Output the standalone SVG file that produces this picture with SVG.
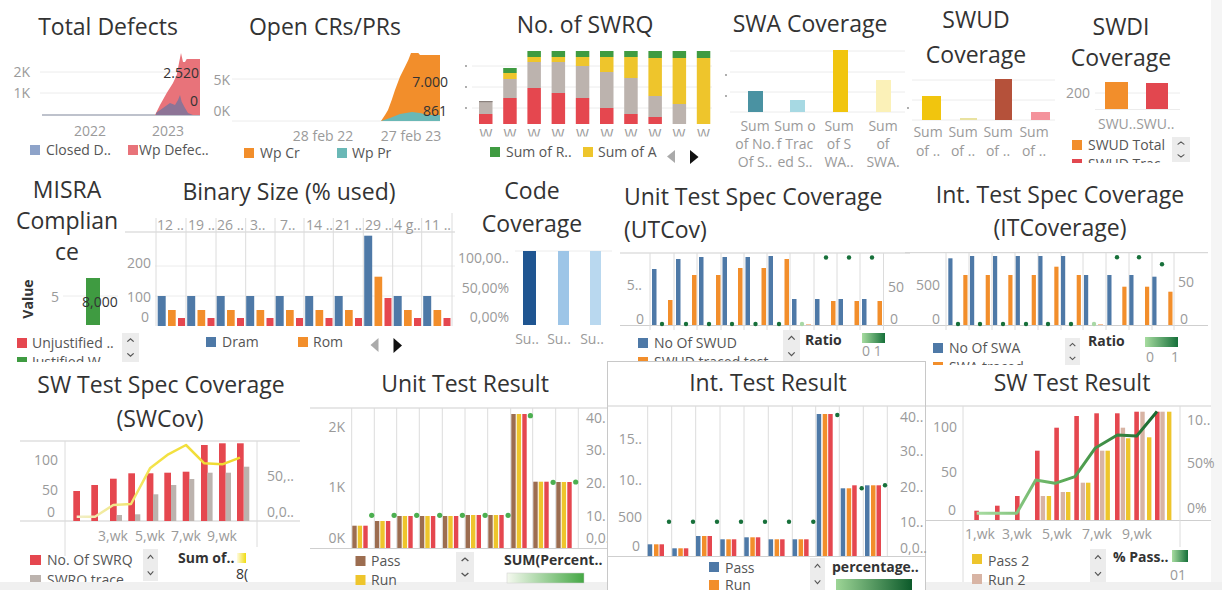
<svg xmlns="http://www.w3.org/2000/svg" xmlns:xlink="http://www.w3.org/1999/xlink" width="1222" height="590" viewBox="0 0 1222 590">
<style>
  text{font-family:"Open Sans","Liberation Sans",sans-serif}
  .ttl{font-size:23px;fill:#333;text-anchor:middle}
  .tls{font-size:23px;fill:#333}
  .ax{font-size:14px;fill:#9a9a9a}
  .e{text-anchor:end}
  .m{text-anchor:middle}
  .lg{font-size:14px;fill:#555}
  .bd{font-size:14px;font-weight:bold;fill:#333}
  .val{font-size:14px;fill:#333}
  .g{stroke:#ececec;stroke-width:1}
  .v{stroke:#dcdcdc;stroke-width:1}
  .bl{stroke:#cfcfcf;stroke-width:1}
  .cb{fill:#4e79a7}
  .co{fill:#f28e2b}
  .cr{fill:#e5474f}
  .cgy{fill:#bcb3ae}
  .cy{fill:#eec52c}
  .cgr{fill:#3f9b41}
  .cbr{fill:#9c6d50}
  .ctn{fill:#d8b4a4}
  .dot{fill:#17703a}
  .dl{fill:#4caf50}
</style>
<defs>
  <linearGradient id="gRatio" x1="0" x2="1" y1="0" y2="0"><stop offset="0" stop-color="#a7dca0"/><stop offset="1" stop-color="#16703a"/></linearGradient>
  <linearGradient id="gSum" x1="0" x2="1" y1="0" y2="0"><stop offset="0" stop-color="#f5f9ef"/><stop offset="1" stop-color="#45a845"/></linearGradient>
  <linearGradient id="gPct" x1="0" x2="1" y1="0" y2="0"><stop offset="0" stop-color="#9dd596"/><stop offset="1" stop-color="#0c5a2a"/></linearGradient>
  <linearGradient id="gYsq" x1="0" x2="1" y1="0" y2="0"><stop offset="0" stop-color="#fffbe0"/><stop offset="1" stop-color="#f0dc10"/></linearGradient>
  <linearGradient id="gYline" gradientUnits="userSpaceOnUse" x1="76" y1="0" x2="240" y2="0"><stop offset="0" stop-color="#f1efcc"/><stop offset="0.5" stop-color="#f3e245"/><stop offset="1" stop-color="#efd82a"/></linearGradient>
  <linearGradient id="gGline" gradientUnits="userSpaceOnUse" x1="976" y1="0" x2="1157" y2="0"><stop offset="0" stop-color="#a9dca2"/><stop offset="0.5" stop-color="#5aa956"/><stop offset="1" stop-color="#1b6a31"/></linearGradient>
  <symbol id="scroll" viewBox="0 0 16 30" preserveAspectRatio="none">
    <rect width="16" height="30" fill="#ececec"/>
    <polyline points="5,9 8,6 11,9" fill="none" stroke="#555" stroke-width="1.2"/>
    <polyline points="5,21 8,24 11,21" fill="none" stroke="#555" stroke-width="1.2"/>
  </symbol>
  <g id="bincol">
    <rect x="0" y="296" width="8" height="30" class="cb"/>
    <rect x="10.3" y="310" width="7.7" height="16" class="co"/>
    <rect x="20.3" y="318" width="7" height="8" class="cr"/>
  </g>
  <clipPath id="cW"><rect x="470" y="126" width="250" height="10.5"/></clipPath>
  <clipPath id="cSwdi"><rect x="1060" y="130" width="150" height="33"/></clipPath>
  <clipPath id="cMisra"><rect x="0" y="330" width="150" height="32"/></clipPath>
  <clipPath id="cUt"><rect x="620" y="330" width="170" height="32"/></clipPath>
  <clipPath id="cIt"><rect x="920" y="330" width="150" height="35"/></clipPath>
  <clipPath id="cSws"><rect x="0" y="545" width="300" height="37"/></clipPath>
</defs>

<rect width="1222" height="590" fill="#fff"/>
<!-- right edge strip and bottom band -->
<rect x="1211" y="0" width="11" height="590" fill="#f5f5f5"/>
<rect x="0" y="582" width="607" height="8" fill="#f0f0f0"/>
<rect x="926" y="582" width="296" height="8" fill="#f0f0f0"/>

<!-- Total Defects -->
<g id="total-defects">
  <text class="ttl" x="108" y="35">Total Defects</text>
  <line class="g" x1="40" y1="72" x2="200" y2="72"/>
  <line class="g" x1="40" y1="93" x2="200" y2="93"/>
  <text class="ax e" x="30" y="77">2K</text>
  <text class="ax e" x="30" y="98">1K</text>
  <line x1="42" y1="115" x2="200" y2="115" stroke="#a9aebb" stroke-width="1.5"/>
  <path d="M155,115 L160,105 L166.7,93 L173,83 L176.7,75 L179,63 L181,53 L183,62 L185,62 L186.7,59 L200,59 L200,115 Z" fill="#e8737a"/>
  <path d="M156,113 L163,108 L170,103 L175,105 L178,100 L180,95 L181.7,101.7 L185,108 L188,113 L193,115 L156,115 Z" fill="#8d7496"/>
  <text class="val e" x="199" y="78">2.520</text>
  <text class="val e" x="198" y="106">0</text>
  <text class="ax m" x="90" y="136">2022</text>
  <text class="ax m" x="168" y="136">2023</text>
  <rect x="30" y="145" width="10" height="10" fill="#8ea3c9"/>
  <text class="lg" x="46" y="155">Closed D..</text>
  <rect x="128" y="145" width="10" height="10" fill="#e8737a"/>
  <text class="lg" x="139" y="155">Wp Defec..</text>
</g>

<!-- Open CRs/PRs -->
<g id="open-crs-prs">
  <text class="ttl" x="325" y="35">Open CRs/PRs</text>
  <line class="g" x1="232" y1="79" x2="440" y2="79"/>
  <line class="g" x1="232" y1="121" x2="440" y2="121"/>
  <text class="ax e" x="230" y="85">5K</text>
  <text class="ax e" x="230" y="116">0K</text>
  <path d="M381,121 L385,115 L388,110 L391.7,100 L395,90 L400,76.7 L405,66.7 L408.3,60 L411,53 L418.3,53 L420,55 L440,55 L440,121 Z" fill="#f28e2b"/>
  <path d="M381,121 L390,118 L400,114 L412,112 L420,113 L428,115 L440,115 L440,121 Z" fill="#6ab8b6"/>
  <text class="val e" x="448" y="87">7.000</text>
  <text class="val e" x="447" y="116">861</text>
  <text class="ax m" x="323" y="141">28 feb 22</text>
  <text class="ax m" x="411" y="141">27 feb 23</text>
  <rect x="244" y="148" width="10" height="10" class="co"/>
  <text class="lg" x="260" y="158">Wp Cr</text>
  <rect x="337" y="148" width="10" height="10" fill="#6ab8b6"/>
  <text class="lg" x="352" y="158">Wp Pr</text>
</g>

<!-- No. of SWRQ -->
<g id="no-of-swrq">
  <text class="ttl" x="585" y="33">No. of SWRQ</text>
  <line class="g" x1="472" y1="66" x2="712" y2="66"/>
  <line class="g" x1="472" y1="87" x2="712" y2="87"/>
  <line class="g" x1="472" y1="108" x2="712" y2="108"/>
  <circle cx="466" cy="66" r="0.9" fill="#888"/>
  <circle cx="466" cy="87" r="0.9" fill="#888"/>
  <circle cx="466" cy="108" r="0.9" fill="#888"/>
  <rect x="479" y="101" width="13.5" height="13" class="cgy"/>
  <rect x="479" y="101" width="13.5" height="1.2" fill="#8a817d"/>
  <rect x="479" y="114" width="13.5" height="10" class="cr"/>
  <rect x="503.2" y="68" width="13.5" height="5" class="cgr"/>
  <rect x="503.2" y="73" width="13.5" height="6" class="cy"/>
  <rect x="503.2" y="79" width="13.5" height="19" class="cgy"/>
  <rect x="503.2" y="98" width="13.5" height="26" class="cr"/>
  <rect x="527.4" y="51" width="13.5" height="6" class="cgr"/>
  <rect x="527.4" y="57" width="13.5" height="5" class="cy"/>
  <rect x="527.4" y="62" width="13.5" height="26" class="cgy"/>
  <rect x="527.4" y="88" width="13.5" height="36" class="cr"/>
  <rect x="551.6" y="51" width="13.5" height="6" class="cgr"/>
  <rect x="551.6" y="57" width="13.5" height="5" class="cy"/>
  <rect x="551.6" y="62" width="13.5" height="31" class="cgy"/>
  <rect x="551.6" y="93" width="13.5" height="31" class="cr"/>
  <rect x="575.8" y="51" width="13.5" height="6" class="cgr"/>
  <rect x="575.8" y="57" width="13.5" height="9" class="cy"/>
  <rect x="575.8" y="66" width="13.5" height="32" class="cgy"/>
  <rect x="575.8" y="98" width="13.5" height="26" class="cr"/>
  <rect x="600" y="51" width="13.5" height="6" class="cgr"/>
  <rect x="600" y="57" width="13.5" height="15" class="cy"/>
  <rect x="600" y="72" width="13.5" height="36" class="cgy"/>
  <rect x="600" y="108" width="13.5" height="16" class="cr"/>
  <rect x="624.2" y="51" width="13.5" height="6" class="cgr"/>
  <rect x="624.2" y="57" width="13.5" height="21" class="cy"/>
  <rect x="624.2" y="78" width="13.5" height="36" class="cgy"/>
  <rect x="624.2" y="114" width="13.5" height="10" class="cr"/>
  <rect x="648.4" y="51" width="13.5" height="7" class="cgr"/>
  <rect x="648.4" y="58" width="13.5" height="38" class="cy"/>
  <rect x="648.4" y="96" width="13.5" height="21" class="cgy"/>
  <rect x="648.4" y="117" width="13.5" height="7" class="cr"/>
  <rect x="672.6" y="51" width="13.5" height="7" class="cgr"/>
  <rect x="672.6" y="58" width="13.5" height="46" class="cy"/>
  <rect x="672.6" y="104" width="13.5" height="20" class="cgy"/>
  <rect x="696.8" y="51" width="13.5" height="7" class="cgr"/>
  <rect x="696.8" y="58" width="13.5" height="66" class="cy"/>
  <!-- category labels, cut by the axis band -->
  <g clip-path="url(#cW)" font-size="13">
    <text class="ax m" x="486" y="139" font-size="13">W</text>
    <text class="ax m" x="510" y="139" font-size="13">W</text>
    <text class="ax m" x="534" y="139" font-size="13">W</text>
    <text class="ax m" x="558" y="139" font-size="13">W</text>
    <text class="ax m" x="582.5" y="139" font-size="13">W</text>
    <text class="ax m" x="607" y="139" font-size="13">W</text>
    <text class="ax m" x="631" y="139" font-size="13">W</text>
    <text class="ax m" x="655" y="139" font-size="13">W</text>
    <text class="ax m" x="679" y="139" font-size="13">W</text>
    <text class="ax m" x="703.5" y="139" font-size="13">W</text>
  </g>
  <rect x="490" y="147" width="10" height="10" class="cgr"/>
  <text class="lg" x="506" y="157">Sum of R..</text>
  <rect x="583" y="147" width="10" height="10" class="cy"/>
  <text class="lg" x="598" y="157">Sum of A</text>
  <polygon points="675,150 675,163 667,156.5" fill="#aaa"/>
  <polygon points="690,150 690,164 698.5,157" fill="#111"/>
</g>

<!-- SWA Coverage -->
<g id="swa-coverage">
  <text class="ttl" x="810" y="32">SWA Coverage</text>
  <line class="g" x1="730" y1="51" x2="905" y2="51"/>
  <line class="g" x1="730" y1="72" x2="905" y2="72"/>
  <line class="g" x1="730" y1="92" x2="905" y2="92"/>
  <line class="g" x1="730" y1="112" x2="905" y2="112"/>
  <circle cx="726" cy="75" r="0.9" fill="#888"/>
  <circle cx="726" cy="96" r="0.9" fill="#888"/>
  <rect x="748" y="91" width="15" height="21" fill="#4a92a2"/>
  <rect x="790" y="100" width="15" height="12" fill="#a7d9e3"/>
  <rect x="833" y="50" width="15" height="62" fill="#f1c50e"/>
  <rect x="876" y="80" width="15" height="32" fill="#fbf1b8"/>
  <g class="ax m">
    <text x="755" y="131">Sum</text><text x="755" y="149">of No.</text><text x="755" y="167">Of S..</text>
    <text x="795" y="131">Sum o</text><text x="795" y="149">f Trac</text><text x="795" y="167">ed S..</text>
    <text x="839" y="131">Sum</text><text x="839" y="149">of S</text><text x="839" y="167">WA..</text>
    <text x="883" y="131">Sum</text><text x="883" y="149">of</text><text x="883" y="167">SWA.</text>
  </g>
</g>

<!-- SWUD Coverage -->
<g id="swud-coverage">
  <text class="ttl" x="976" y="28">SWUD</text>
  <text class="ttl" x="976" y="63">Coverage</text>
  <line class="g" x1="912" y1="80" x2="1055" y2="80"/>
  <line class="g" x1="912" y1="100" x2="1055" y2="100"/>
  <line class="g" x1="912" y1="120" x2="1055" y2="120"/>
  <circle cx="908" cy="108" r="0.9" fill="#888"/>
  <rect x="922" y="96" width="19" height="24" fill="#f1c50e"/>
  <rect x="960" y="118" width="17" height="2" fill="#e9e2a0"/>
  <rect x="995" y="79" width="17" height="41" fill="#b5513a"/>
  <rect x="1031" y="112" width="19" height="8" fill="#f4939c"/>
  <g class="ax m">
    <text x="928" y="137">Sum</text><text x="928" y="156">of ..</text>
    <text x="963" y="137">Sum</text><text x="963" y="156">of ..</text>
    <text x="998" y="137">Sum</text><text x="998" y="156">of ..</text>
    <text x="1034" y="137">Sum</text><text x="1034" y="156">of ..</text>
  </g>
</g>

<!-- SWDI Coverage -->
<g id="swdi-coverage">
  <text class="ttl" x="1121" y="35">SWDI</text>
  <text class="ttl" x="1121" y="66">Coverage</text>
  <line class="g" x1="1095" y1="93" x2="1180" y2="93"/>
  <line class="g" x1="1095" y1="109.5" x2="1180" y2="109.5"/>
  <text class="ax e" x="1090" y="98">200</text>
  <rect x="1105" y="82" width="23" height="27" class="co"/>
  <rect x="1146" y="83" width="22" height="26" fill="#e2474f"/>
  <text class="ax" x="1098" y="129">SWU..SWU..</text>
  <g clip-path="url(#cSwdi)">
    <rect x="1072" y="140" width="10" height="10" class="co"/>
    <text class="lg" x="1088" y="150">SWUD Total</text>
    <rect x="1072" y="159" width="10" height="10" fill="#e2474f"/>
    <text class="lg" x="1088" y="169">SWUD Trac..</text>
  </g>
  <use xlink:href="#scroll" x="1172" y="137" width="18" height="25"/>
</g>

<!-- MISRA Compliance -->
<g id="misra-compliance">
  <text class="ttl" x="67" y="198">MISRA</text>
  <text class="ttl" x="67" y="229">Complian</text>
  <text class="ttl" x="67" y="260">ce</text>
  <line class="g" x1="63" y1="296" x2="118" y2="296"/>
  <text class="bd" x="33" y="299" text-anchor="middle" transform="rotate(-90 33 299)">Value</text>
  <text class="ax e" x="59" y="302">5</text>
  <rect x="86" y="278" width="14" height="47" class="cgr"/>
  <text class="val" x="82" y="307">8,000</text>
  <g clip-path="url(#cMisra)">
    <rect x="17" y="338" width="10" height="10" class="cr"/>
    <text class="lg" x="32" y="348">Unjustified ..</text>
    <rect x="17" y="357" width="10" height="10" class="cgr"/>
    <text class="lg" x="32" y="367">Justified W..</text>
  </g>
  <use xlink:href="#scroll" x="122" y="333" width="17" height="29"/>
</g>

<!-- Binary Size (% used) -->
<g id="binary-size">
  <text class="ttl" x="289" y="200">Binary Size (% used)</text>
  <line class="bl" x1="125" y1="232" x2="455" y2="232"/>
  <line class="g" x1="155" y1="266" x2="455" y2="266"/>
  <line class="g" x1="155" y1="296" x2="455" y2="296"/>
  <g class="v">
    <line x1="156" y1="218" x2="156" y2="326"/>
    <line x1="186" y1="218" x2="186" y2="326"/>
    <line x1="216" y1="218" x2="216" y2="326"/>
    <line x1="245.7" y1="218" x2="245.7" y2="326"/>
    <line x1="275" y1="218" x2="275" y2="326"/>
    <line x1="304" y1="218" x2="304" y2="326"/>
    <line x1="333.3" y1="218" x2="333.3" y2="326"/>
    <line x1="363.3" y1="218" x2="363.3" y2="326"/>
    <line x1="392.7" y1="218" x2="392.7" y2="326"/>
    <line x1="421.7" y1="218" x2="421.7" y2="326"/>
  </g>
  <g class="ax">
    <text x="157" y="230">12 ..</text>
    <text x="188" y="230">19 ..</text>
    <text x="217" y="230">26 ..</text>
    <text x="250" y="230">3..</text>
    <text x="280" y="230">7..</text>
    <text x="306" y="230">14 ..</text>
    <text x="335" y="230">21 ..</text>
    <text x="365" y="230">29 ..</text>
    <text x="394" y="230">4 g..</text>
    <text x="424" y="230">11 ..</text>
  </g>
  <text class="ax e" x="151" y="268">200</text>
  <text class="ax e" x="151" y="302">100</text>
  <text class="ax e" x="149" y="322">0</text>
  <use xlink:href="#bincol" x="157.7"/>
  <use xlink:href="#bincol" x="187.2"/>
  <use xlink:href="#bincol" x="216.7"/>
  <use xlink:href="#bincol" x="246.2"/>
  <use xlink:href="#bincol" x="275.7"/>
  <use xlink:href="#bincol" x="305.2"/>
  <use xlink:href="#bincol" x="334.7"/>
  <rect x="364.2" y="235.7" width="8" height="90.3" class="cb"/>
  <rect x="374.5" y="276.7" width="7.7" height="49.3" class="co"/>
  <rect x="384.5" y="298" width="7" height="28" class="cr"/>
  <use xlink:href="#bincol" x="393.7"/>
  <use xlink:href="#bincol" x="423.2"/>
  <rect x="206" y="337" width="10" height="10" class="cb"/>
  <text class="lg" x="222" y="347">Dram</text>
  <rect x="298" y="337" width="10" height="10" class="co"/>
  <text class="lg" x="313" y="347">Rom</text>
  <polygon points="378.5,338 378.5,352 370.5,345" fill="#aaa"/>
  <polygon points="393.5,338 393.5,353 402,345.5" fill="#111"/>
</g>

<!-- Code Coverage -->
<g id="code-coverage">
  <text class="ttl" x="532" y="199">Code</text>
  <text class="ttl" x="532" y="232">Coverage</text>
  <line class="v" x1="452" y1="213" x2="452" y2="326"/>
  <line class="g" x1="515" y1="251" x2="612" y2="251"/>
  <text class="ax e" x="509" y="263">100,00..</text>
  <text class="ax e" x="509" y="293">50,00%</text>
  <text class="ax e" x="509" y="322">0,00%</text>
  <rect x="523" y="251" width="13" height="74" fill="#1f5591"/>
  <rect x="558" y="251" width="11" height="74" fill="#9dc5e7"/>
  <rect x="590" y="251" width="11" height="74" fill="#b9d8ef"/>
  <text class="ax m" x="527" y="344">Su..</text>
  <text class="ax m" x="559" y="344">Su..</text>
  <text class="ax m" x="592" y="344">Su..</text>
</g>

<!-- Unit Test Spec Coverage (UTCov) -->
<g id="unit-test-spec-coverage">
  <text class="tls" x="624" y="205">Unit Test Spec Coverage</text>
  <text class="tls" x="624" y="238">(UTCov)</text>
  <line class="bl" x1="620" y1="253" x2="910" y2="253"/>
  <line class="bl" x1="620" y1="325.5" x2="910" y2="325.5"/>
  <g class="v">
    <line x1="650" y1="253" x2="650" y2="330"/>
    <line x1="674" y1="253" x2="674" y2="330"/>
    <line x1="697" y1="253" x2="697" y2="330"/>
    <line x1="721" y1="253" x2="721" y2="330"/>
    <line x1="744" y1="253" x2="744" y2="330"/>
    <line x1="767" y1="253" x2="767" y2="330"/>
    <line x1="790" y1="253" x2="790" y2="330"/>
    <line x1="814" y1="253" x2="814" y2="330"/>
    <line x1="837" y1="253" x2="837" y2="330"/>
    <line x1="860" y1="253" x2="860" y2="330"/>
    <line x1="883.5" y1="253" x2="883.5" y2="330"/>
  </g>
  <text class="ax e" x="642" y="290">5..</text>
  <text class="ax e" x="644" y="324">0</text>
  <text class="ax" x="888" y="292">50</text>
  <text class="ax" x="890" y="324">0</text>
  <g class="cb">
    <rect x="652" y="269" width="4.5" height="56"/>
    <rect x="676" y="259" width="4.5" height="66"/>
    <rect x="699" y="257" width="4.5" height="68"/>
    <rect x="722.5" y="257" width="4.5" height="68"/>
    <rect x="745.5" y="257" width="4.5" height="68"/>
    <rect x="768.5" y="256" width="4.5" height="69"/>
    <rect x="792" y="299" width="4.5" height="26"/>
    <rect x="815" y="299" width="4.5" height="26"/>
    <rect x="838.5" y="299" width="4.5" height="26"/>
    <rect x="862" y="299" width="4.5" height="26"/>
  </g>
  <g class="co">
    <rect x="668" y="300" width="4.5" height="25"/>
    <rect x="692" y="275" width="4.5" height="50"/>
    <rect x="716" y="275" width="4.5" height="50"/>
    <rect x="738" y="268" width="4.5" height="57"/>
    <rect x="761.5" y="268" width="4.5" height="57"/>
    <rect x="784.5" y="259" width="4.5" height="66"/>
    <rect x="806" y="324" width="5" height="1" fill="#f6c29a"/>
    <rect x="831" y="301" width="4.5" height="24"/>
    <rect x="854.5" y="301" width="4.5" height="24"/>
    <rect x="877.5" y="301" width="4.5" height="24"/>
  </g>
  <g class="dot">
    <circle cx="662" cy="324" r="2.2"/>
    <circle cx="686" cy="324" r="2.2"/>
    <circle cx="709" cy="324" r="2.2"/>
    <circle cx="732" cy="324" r="2.2"/>
    <circle cx="755.5" cy="324" r="2.2"/>
    <circle cx="779" cy="324" r="2.2"/>
    <circle cx="802" cy="324" r="2.2" fill="#a8d8a5"/>
    <circle cx="826" cy="257.5" r="2.2"/>
    <circle cx="849" cy="257.5" r="2.2"/>
    <circle cx="872" cy="257.5" r="2.2"/>
  </g>
  <g clip-path="url(#cUt)">
    <rect x="638" y="338" width="10" height="10" class="cb"/>
    <text class="lg" x="654" y="348">No Of SWUD</text>
    <rect x="638" y="357" width="10" height="10" class="co"/>
    <text class="lg" x="654" y="367">SWUD traced test..</text>
  </g>
  <use xlink:href="#scroll" x="783" y="330" width="17" height="32"/>
  <text class="bd" x="805" y="345">Ratio</text>
  <rect x="862" y="333" width="23" height="10" fill="url(#gRatio)"/>
  <text class="ax" x="862" y="356">0 1</text>
</g>

<!-- Int. Test Spec Coverage (ITCoverage) -->
<g id="int-test-spec-coverage">
  <text class="ttl" x="1060" y="203">Int. Test Spec Coverage</text>
  <text class="ttl" x="1060" y="236">(ITCoverage)</text>
  <line class="bl" x1="905" y1="252.7" x2="1208" y2="252.7"/>
  <line class="bl" x1="905" y1="325.5" x2="1208" y2="325.5"/>
  <g class="v">
    <line x1="946" y1="253" x2="946" y2="330"/>
    <line x1="969" y1="253" x2="969" y2="330"/>
    <line x1="992" y1="253" x2="992" y2="330"/>
    <line x1="1015" y1="253" x2="1015" y2="330"/>
    <line x1="1038" y1="253" x2="1038" y2="330"/>
    <line x1="1061" y1="253" x2="1061" y2="330"/>
    <line x1="1083" y1="253" x2="1083" y2="330"/>
    <line x1="1106" y1="253" x2="1106" y2="330"/>
    <line x1="1129" y1="253" x2="1129" y2="330"/>
    <line x1="1152" y1="253" x2="1152" y2="330"/>
    <line x1="1174" y1="253" x2="1174" y2="330"/>
  </g>
  <text class="ax e" x="940" y="290">500</text>
  <text class="ax e" x="940" y="324">0</text>
  <text class="ax" x="1178" y="287">50</text>
  <text class="ax" x="1180" y="324">0</text>
  <g class="cb">
    <rect x="948.3" y="258.3" width="4.2" height="66.7"/>
    <rect x="970" y="256" width="4.2" height="69"/>
    <rect x="993" y="256" width="4.2" height="69"/>
    <rect x="1015.7" y="256" width="4.2" height="69"/>
    <rect x="1038.3" y="256" width="4.2" height="69"/>
    <rect x="1061" y="256" width="4.2" height="69"/>
    <rect x="1084" y="275" width="4.2" height="50"/>
    <rect x="1107.3" y="275" width="4.2" height="50"/>
    <rect x="1129.3" y="275" width="4.2" height="50"/>
    <rect x="1152.3" y="276.7" width="4.2" height="48.3"/>
  </g>
  <g class="co">
    <rect x="963.3" y="275" width="4.2" height="50"/>
    <rect x="985.7" y="275" width="4.2" height="50"/>
    <rect x="1008.3" y="275" width="4.2" height="50"/>
    <rect x="1031.7" y="275" width="4.2" height="50"/>
    <rect x="1054.3" y="266.7" width="4.2" height="58.3"/>
    <rect x="1076.7" y="275" width="4.2" height="50"/>
    <rect x="1098" y="324" width="5" height="1" fill="#f6c29a"/>
    <rect x="1122.3" y="286.7" width="4.2" height="38.3"/>
    <rect x="1145" y="286.7" width="4.2" height="38.3"/>
    <rect x="1168.3" y="291.7" width="4.2" height="33.3"/>
  </g>
  <g class="dot">
    <circle cx="958" cy="324" r="2.2"/>
    <circle cx="980" cy="324" r="2.2"/>
    <circle cx="1003" cy="324" r="2.2"/>
    <circle cx="1026" cy="324" r="2.2"/>
    <circle cx="1048" cy="324" r="2.2"/>
    <circle cx="1071" cy="324" r="2.2"/>
    <circle cx="1094" cy="324" r="2.2" fill="#a8d8a5"/>
    <circle cx="1117" cy="257.3" r="2.2"/>
    <circle cx="1139" cy="257.3" r="2.2"/>
    <circle cx="1162" cy="264.3" r="2.2"/>
  </g>
  <g clip-path="url(#cIt)">
    <rect x="933" y="343" width="10" height="10" class="cb"/>
    <text class="lg" x="949" y="353">No Of SWA</text>
    <rect x="933" y="362" width="10" height="10" class="co"/>
    <text class="lg" x="949" y="372">SWA traced..</text>
  </g>
  <use xlink:href="#scroll" x="1065" y="338" width="15" height="27"/>
  <text class="bd" x="1088" y="346">Ratio</text>
  <rect x="1145" y="337" width="33" height="10" fill="url(#gRatio)"/>
  <text class="ax" x="1146" y="362">0</text>
  <text class="ax" x="1171" y="362">1</text>
</g>

<!-- SW Test Spec Coverage (SWCov) -->
<g id="sw-test-spec-coverage">
  <text class="ttl" x="161" y="393">SW Test Spec Coverage</text>
  <text class="ttl" x="160" y="427">(SWCov)</text>
  <line class="bl" x1="20" y1="441" x2="300" y2="441"/>
  <line class="bl" x1="20" y1="521" x2="300" y2="521"/>
  <line class="v" x1="65" y1="441" x2="65" y2="556"/>
  <line class="v" x1="257" y1="441" x2="257" y2="547"/>
  <text class="ax e" x="58" y="465">100</text>
  <text class="ax e" x="58" y="495">50</text>
  <text class="ax e" x="55" y="517">0</text>
  <text class="ax" x="267" y="481">50,..</text>
  <text class="ax" x="267" y="517">0,0..</text>
  <g class="cr">
    <rect x="73.3" y="491" width="6.7" height="30"/>
    <rect x="91.3" y="485" width="6.7" height="36"/>
    <rect x="110" y="478.7" width="6.7" height="42.3"/>
    <rect x="128.3" y="473.3" width="6.7" height="47.7"/>
    <rect x="146.7" y="473.3" width="6.7" height="47.7"/>
    <rect x="164.3" y="472.7" width="6.7" height="48.3"/>
    <rect x="182.7" y="471.7" width="6.7" height="49.3"/>
    <rect x="201" y="445" width="6.7" height="76"/>
    <rect x="219" y="443.3" width="6.7" height="77.7"/>
    <rect x="237" y="443.3" width="6.7" height="77.7"/>
  </g>
  <g class="cgy">
    <rect x="116.7" y="515" width="5.3" height="6"/>
    <rect x="135" y="514.3" width="5.3" height="6.7"/>
    <rect x="153" y="494.3" width="5.3" height="26.7"/>
    <rect x="171" y="485" width="5.3" height="36"/>
    <rect x="189" y="479" width="5.3" height="42"/>
    <rect x="207.3" y="472.7" width="5.3" height="48.3"/>
    <rect x="225.7" y="472.7" width="5.3" height="48.3"/>
    <rect x="244" y="466.7" width="5.3" height="54.3"/>
  </g>
  <polyline points="76.7,516.7 95,516.7 113.3,505 131,504 150,468.3 168.3,454.3 186,445 204.3,463.3 222.3,464.3 240,457.7" fill="none" stroke="url(#gYline)" stroke-width="2.5" stroke-linejoin="round"/>
  <text class="ax m" x="113" y="541">3,wk</text>
  <text class="ax m" x="150" y="541">5,wk</text>
  <text class="ax m" x="186" y="541">7,wk</text>
  <text class="ax m" x="222" y="541">9,wk</text>
  <g clip-path="url(#cSws)">
    <rect x="30" y="555" width="11" height="10" class="cr"/>
    <text class="lg" x="47" y="565">No. Of SWRQ</text>
    <rect x="30" y="575" width="11" height="10" class="cgy"/>
    <text class="lg" x="47" y="585">SWRQ trace</text>
  </g>
  <use xlink:href="#scroll" x="143" y="549" width="15" height="32"/>
  <text class="bd" x="178" y="563">Sum of..</text>
  <rect x="237" y="553" width="9" height="10" fill="url(#gYsq)"/>
  <text class="val" x="236" y="579" font-size="13">8(</text>
</g>

<!-- Unit Test Result -->
<g id="unit-test-result">
  <text class="ttl" x="465" y="392">Unit Test Result</text>
  <line class="bl" x1="310" y1="408" x2="607" y2="408"/>
  <line class="bl" x1="310" y1="548.5" x2="607" y2="548.5"/>
  <g class="v">
    <line x1="351.7" y1="408" x2="351.7" y2="548"/>
    <line x1="374.3" y1="408" x2="374.3" y2="548"/>
    <line x1="396.7" y1="408" x2="396.7" y2="548"/>
    <line x1="419.3" y1="408" x2="419.3" y2="548"/>
    <line x1="442.3" y1="408" x2="442.3" y2="548"/>
    <line x1="465" y1="408" x2="465" y2="548"/>
    <line x1="487.7" y1="408" x2="487.7" y2="548"/>
    <line x1="510.7" y1="408" x2="510.7" y2="548"/>
    <line x1="532.7" y1="408" x2="532.7" y2="548"/>
    <line x1="555.7" y1="408" x2="555.7" y2="548"/>
    <line x1="578.3" y1="408" x2="578.3" y2="548"/>
  </g>
  <text class="ax e" x="345" y="432">2K</text>
  <text class="ax e" x="345" y="492">1K</text>
  <text class="ax e" x="345" y="543">0K</text>
  <text class="ax" x="586" y="423">40.</text>
  <text class="ax" x="586" y="455">30.</text>
  <text class="ax" x="586" y="488">20.</text>
  <text class="ax" x="586" y="521">10.</text>
  <text class="ax" x="586" y="543">0,0.</text>
  <g class="cbr">
    <rect x="352.3" y="525.7" width="4.4" height="22.3"/>
    <rect x="374.9" y="521" width="4.4" height="27"/>
    <rect x="397.3" y="516" width="4.4" height="32"/>
    <rect x="419.9" y="516" width="4.4" height="32"/>
    <rect x="442.9" y="516" width="4.4" height="32"/>
    <rect x="465.6" y="515" width="4.4" height="33"/>
    <rect x="488.3" y="515" width="4.4" height="33"/>
    <rect x="511.3" y="414" width="4.4" height="134"/>
    <rect x="533.3" y="481.7" width="4.4" height="66.3"/>
    <rect x="556.3" y="482" width="4.4" height="66"/>
  </g>
  <g class="cy">
    <rect x="357.7" y="525.7" width="4.4" height="22.3"/>
    <rect x="380.3" y="521" width="4.4" height="27"/>
    <rect x="402.7" y="516" width="4.4" height="32"/>
    <rect x="425.3" y="516" width="4.4" height="32"/>
    <rect x="448.3" y="516" width="4.4" height="32"/>
    <rect x="471" y="515" width="4.4" height="33"/>
    <rect x="493.7" y="515" width="4.4" height="33"/>
    <rect x="516.7" y="414" width="4.4" height="134"/>
    <rect x="538.7" y="481.7" width="4.4" height="66.3"/>
    <rect x="561.7" y="482" width="4.4" height="66"/>
  </g>
  <g class="cr">
    <rect x="363.3" y="525.7" width="4.4" height="22.3"/>
    <rect x="385.9" y="521" width="4.4" height="27"/>
    <rect x="408.3" y="516" width="4.4" height="32"/>
    <rect x="430.9" y="516" width="4.4" height="32"/>
    <rect x="453.9" y="516" width="4.4" height="32"/>
    <rect x="476.6" y="515" width="4.4" height="33"/>
    <rect x="499.3" y="515" width="4.4" height="33"/>
    <rect x="522.3" y="414" width="4.4" height="134"/>
    <rect x="544.3" y="481.7" width="4.4" height="66.3"/>
    <rect x="567.3" y="482" width="4.4" height="66"/>
  </g>
  <g class="dl">
    <circle cx="371.7" cy="515.3" r="2.6"/>
    <circle cx="394.1" cy="515.3" r="2.6"/>
    <circle cx="416.7" cy="515.3" r="2.6"/>
    <circle cx="439.7" cy="515.3" r="2.6"/>
    <circle cx="462.4" cy="515.3" r="2.6"/>
    <circle cx="485.1" cy="515.3" r="2.6"/>
    <circle cx="508.1" cy="515.3" r="2.6"/>
    <circle cx="530.4" cy="415.7" r="2.6"/>
    <circle cx="553.1" cy="482.3" r="2.6"/>
    <circle cx="575.7" cy="482" r="2.6"/>
  </g>
  <rect x="355.5" y="556" width="10" height="10" class="cbr"/>
  <text class="lg" x="371" y="566">Pass</text>
  <rect x="355.5" y="575" width="10" height="10" class="cy"/>
  <text class="lg" x="371" y="585">Run</text>
  <use xlink:href="#scroll" x="456" y="552" width="18" height="30"/>
  <text class="bd" x="504" y="565">SUM(Percent..</text>
  <rect x="507" y="573" width="77" height="10" fill="url(#gSum)" stroke="#ccc" stroke-width="0.5"/>
</g>

<!-- Int. Test Result -->
<g id="int-test-result">
  <rect x="607.5" y="361.5" width="318" height="240" fill="#fff" stroke="#c8c8c8"/>
  <text class="ttl" x="768" y="391">Int. Test Result</text>
  <line class="bl" x1="607" y1="406" x2="925" y2="406"/>
  <line class="bl" x1="607" y1="556.5" x2="925" y2="556.5"/>
  <g class="v">
    <line x1="647.7" y1="406" x2="647.7" y2="556"/>
    <line x1="671.7" y1="406" x2="671.7" y2="556"/>
    <line x1="695.7" y1="406" x2="695.7" y2="556"/>
    <line x1="720" y1="406" x2="720" y2="556"/>
    <line x1="744" y1="406" x2="744" y2="556"/>
    <line x1="768.3" y1="406" x2="768.3" y2="556"/>
    <line x1="792.3" y1="406" x2="792.3" y2="556"/>
    <line x1="815.7" y1="406" x2="815.7" y2="556"/>
    <line x1="839.3" y1="406" x2="839.3" y2="556"/>
    <line x1="863.3" y1="406" x2="863.3" y2="556"/>
    <line x1="887.3" y1="406" x2="887.3" y2="556"/>
  </g>
  <text class="ax e" x="642" y="444">15..</text>
  <text class="ax e" x="642" y="485">10..</text>
  <text class="ax e" x="642" y="522">500</text>
  <text class="ax e" x="640" y="551">0</text>
  <text class="ax" x="900" y="422">40..</text>
  <text class="ax" x="900" y="456">30..</text>
  <text class="ax" x="900" y="492">20..</text>
  <text class="ax" x="900" y="527">10..</text>
  <text class="ax" x="900" y="553">0,0..</text>
  <g class="cb">
    <rect x="647.7" y="544.3" width="4.5" height="11.7"/>
    <rect x="672.3" y="548.3" width="4.5" height="7.7"/>
    <rect x="696" y="536" width="4.5" height="20"/>
    <rect x="720.3" y="539.3" width="4.5" height="16.7"/>
    <rect x="744.3" y="537.3" width="4.5" height="18.7"/>
    <rect x="768.6" y="539.3" width="4.5" height="16.7"/>
    <rect x="792.6" y="539.3" width="4.5" height="16.7"/>
    <rect x="816.7" y="414" width="4.5" height="142"/>
    <rect x="840.7" y="488.3" width="4.5" height="67.7"/>
    <rect x="865" y="485.3" width="4.5" height="70.7"/>
  </g>
  <g class="co">
    <rect x="654" y="544.3" width="4.5" height="11.7"/>
    <rect x="678.3" y="548.3" width="4.5" height="7.7"/>
    <rect x="702" y="536" width="4.5" height="20"/>
    <rect x="726.3" y="539.3" width="4.5" height="16.7"/>
    <rect x="750.3" y="537.3" width="4.5" height="18.7"/>
    <rect x="774.6" y="539.3" width="4.5" height="16.7"/>
    <rect x="798.6" y="539.3" width="4.5" height="16.7"/>
    <rect x="822.7" y="414" width="4.5" height="142"/>
    <rect x="846.7" y="488.3" width="4.5" height="67.7"/>
    <rect x="871" y="485.3" width="4.5" height="70.7"/>
  </g>
  <g class="cr">
    <rect x="659.5" y="544.3" width="4.5" height="11.7"/>
    <rect x="683.8" y="548.3" width="4.5" height="7.7"/>
    <rect x="707.5" y="536" width="4.5" height="20"/>
    <rect x="731.8" y="539.3" width="4.5" height="16.7"/>
    <rect x="755.8" y="537.3" width="4.5" height="18.7"/>
    <rect x="780.1" y="539.3" width="4.5" height="16.7"/>
    <rect x="804.1" y="539.3" width="4.5" height="16.7"/>
    <rect x="828.2" y="414" width="4.5" height="142"/>
    <rect x="852.2" y="485.3" width="4.5" height="70.7"/>
    <rect x="876.5" y="485.3" width="4.5" height="70.7"/>
  </g>
  <g class="dot">
    <circle cx="669" cy="521.7" r="2.2"/>
    <circle cx="693" cy="521.7" r="2.2"/>
    <circle cx="717" cy="521.7" r="2.2"/>
    <circle cx="741" cy="521.7" r="2.2"/>
    <circle cx="765" cy="521.7" r="2.2"/>
    <circle cx="789" cy="521.7" r="2.2"/>
    <circle cx="813.3" cy="521.7" r="2.2"/>
    <circle cx="837.3" cy="415" r="2.2"/>
    <circle cx="861.7" cy="488.3" r="2.2"/>
    <circle cx="885" cy="485.3" r="2.2"/>
  </g>
  <rect x="709" y="562" width="10" height="10" class="cb"/>
  <text class="lg" x="725" y="573">Pass</text>
  <rect x="709" y="580" width="10" height="10" class="co"/>
  <text class="lg" x="725" y="590">Run</text>
  <use xlink:href="#scroll" x="810" y="558" width="15" height="32"/>
  <text class="bd" x="832" y="572">percentage..</text>
  <rect x="836" y="579" width="76" height="11" fill="url(#gPct)"/>
</g>

<!-- SW Test Result -->
<g id="sw-test-result">
  <text class="ttl" x="1072" y="391">SW Test Result</text>
  <line class="bl" x1="926" y1="406" x2="1211" y2="406"/>
  <line class="bl" x1="926" y1="520.5" x2="1211" y2="520.5"/>
  <line class="v" x1="963" y1="406" x2="963" y2="582"/>
  <line class="v" x1="1180" y1="406" x2="1180" y2="547"/>
  <text class="ax e" x="957" y="432">100</text>
  <text class="ax e" x="957" y="477">50</text>
  <text class="ax e" x="956" y="515">0</text>
  <text class="ax" x="1187" y="425">10..</text>
  <text class="ax" x="1187" y="468">50%</text>
  <text class="ax" x="1187" y="513">0%</text>
  <g class="cr">
    <rect x="974.3" y="510.7" width="4.6" height="9.3"/>
    <rect x="995" y="505.7" width="4.6" height="14.3"/>
    <rect x="1015" y="496" width="4.6" height="24"/>
    <rect x="1035" y="450.7" width="4.6" height="69.3"/>
    <rect x="1054.3" y="427.7" width="4.6" height="92.3"/>
    <rect x="1074.3" y="416" width="4.6" height="104"/>
    <rect x="1094.3" y="413.3" width="4.6" height="106.7"/>
    <rect x="1115" y="413.3" width="4.6" height="106.7"/>
    <rect x="1134.3" y="411.7" width="4.6" height="108.3"/>
    <rect x="1155" y="411.7" width="4.6" height="108.3"/>
  </g>
  <g class="ctn">
    <rect x="1040.7" y="496" width="4.4" height="24"/>
    <rect x="1060.7" y="492" width="4.4" height="28"/>
    <rect x="1080.7" y="482.7" width="4.4" height="37.3"/>
    <rect x="1100" y="450.7" width="4.4" height="69.3"/>
    <rect x="1120.7" y="427.7" width="4.4" height="92.3"/>
    <rect x="1140.3" y="411.7" width="4.4" height="108.3"/>
    <rect x="1160.3" y="411.7" width="4.4" height="108.3"/>
  </g>
  <g class="cy">
    <rect x="1046.7" y="496" width="4.4" height="24"/>
    <rect x="1066" y="492" width="4.4" height="28"/>
    <rect x="1086" y="482.7" width="4.4" height="37.3"/>
    <rect x="1105.5" y="450.7" width="4.4" height="69.3"/>
    <rect x="1126" y="438.3" width="4.4" height="81.7"/>
    <rect x="1147" y="437.3" width="4.4" height="82.7"/>
    <rect x="1167" y="411.7" width="4.4" height="108.3"/>
  </g>
  <polyline points="976.7,513.3 996.7,513.3 1016.7,513.3 1035.7,480 1055,483.3 1075,476.7 1095,448.3 1117.3,435 1136.7,436 1157,411.5" fill="none" stroke="url(#gGline)" stroke-width="3" stroke-linejoin="round"/>
  <text class="ax m" x="980" y="539">1,wk</text>
  <text class="ax m" x="1017" y="539">3,wk</text>
  <text class="ax m" x="1057" y="539">5,wk</text>
  <text class="ax m" x="1097" y="539">7,wk</text>
  <text class="ax m" x="1137" y="539">9,wk</text>
  <rect x="972" y="554" width="10" height="10" class="cy"/>
  <text class="lg" x="988" y="566">Pass 2</text>
  <rect x="972" y="574" width="10" height="10" class="ctn"/>
  <text class="lg" x="988" y="585">Run 2</text>
  <use xlink:href="#scroll" x="1090" y="549" width="16" height="33"/>
  <text class="bd" x="1113" y="562">% Pass..</text>
  <rect x="1172" y="550" width="16" height="12" fill="url(#gRatio)"/>
  <text class="ax" x="1170" y="580">01</text>
</g>
</svg>
